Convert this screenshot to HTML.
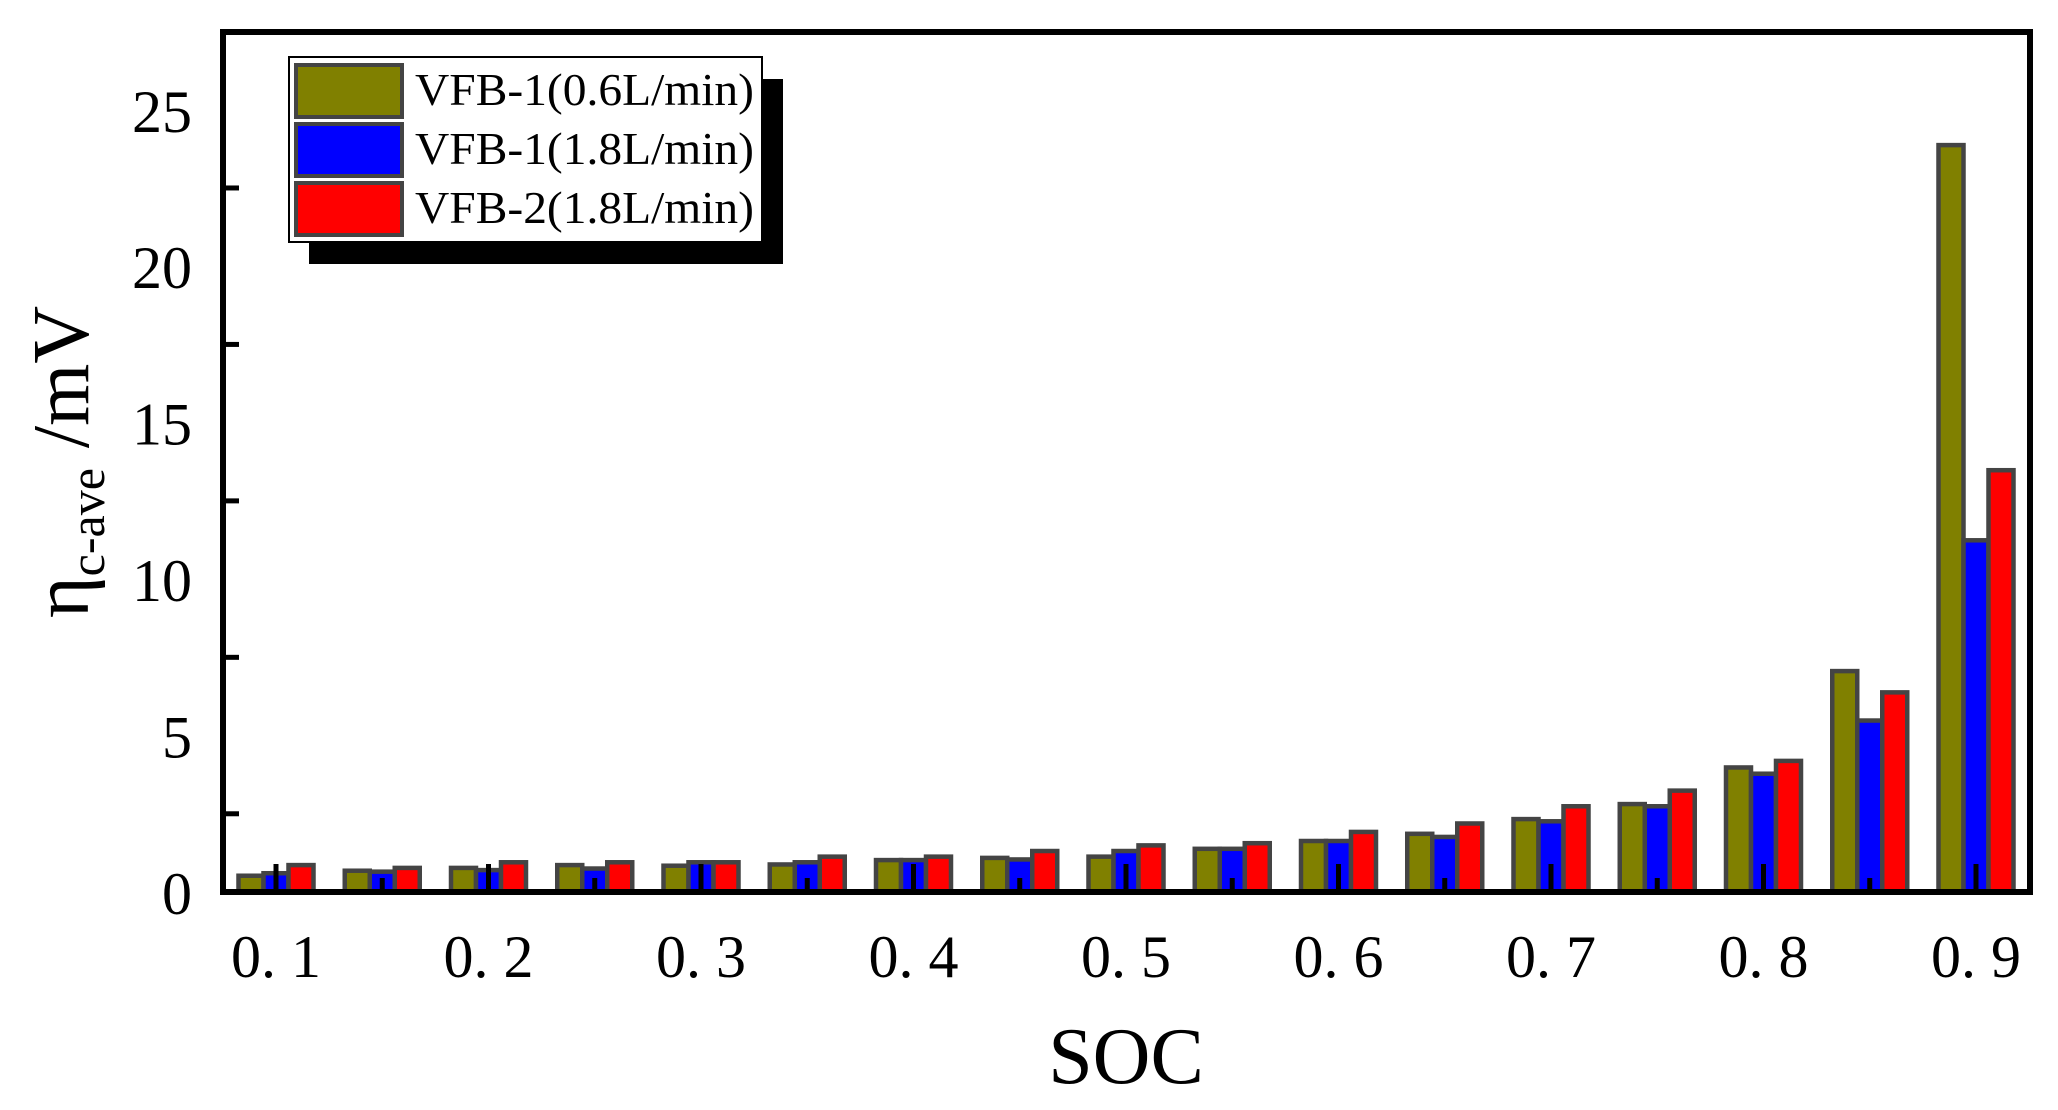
<!DOCTYPE html>
<html><head><meta charset="utf-8"><style>
html,body{margin:0;padding:0;background:#fff;}
svg{display:block;font-family:"Liberation Serif",serif;}
</style></head><body>
<svg id="chart" width="2058" height="1110" viewBox="0 0 2058 1110">
<g id="bars"></g>
<g id="ticks"></g>
<rect x="223" y="32" width="1807" height="860" fill="none" stroke="#000" stroke-width="6"/>
<g id="labels"></g>
<text x="1126" y="1083" font-size="80" text-anchor="middle">SOC</text>
<text transform="translate(88,462) rotate(-90)" font-size="80" text-anchor="middle">η<tspan font-size="50" dy="16">c-ave</tspan><tspan dy="-16"> /mV</tspan></text>
<g>
<rect x="309" y="79" width="474" height="185" fill="#000"/>
<rect x="289" y="57" width="473" height="185" fill="#fff" stroke="#000" stroke-width="2"/>
<g id="legend"></g>
</g>
</svg>
<script>
const categories = ["0.1","0.15","0.2","0.25","0.3","0.35","0.4","0.45","0.5","0.55","0.6","0.65","0.7","0.75","0.8","0.85","0.9"];
const vfb1Low = [0.52,0.68,0.77,0.86,0.84,0.88,1.02,1.09,1.13,1.38,1.63,1.86,2.33,2.81,3.98,7.06,23.87];
const vfb1High = [0.6,0.65,0.7,0.75,0.95,0.95,1.02,1.04,1.31,1.38,1.63,1.76,2.26,2.74,3.78,5.48,11.24];
const vfb2High = [0.86,0.77,0.95,0.95,0.95,1.13,1.13,1.31,1.49,1.56,1.92,2.19,2.74,3.24,4.19,6.38,13.48];
const seriesNames = ["VFB-1(0.6L/min)","VFB-1(1.8L/min)","VFB-2(1.8L/min)"];
const seriesColors = ["#808000","#0000ff","#ff0000"];
const yTickLabels = [0,5,10,15,20,25];
const xTickLabels = ["0. 1","0. 2","0. 3","0. 4","0. 5","0. 6","0. 7","0. 8","0. 9"];

const NS="http://www.w3.org/2000/svg";
const y0=892, unit=31.29;
function yScale(v){return y0-v*unit;}
function xScale(i){return 276+i*106.25;}
function mk(tag,attrs,parent){const e=document.createElementNS(NS,tag);for(const k in attrs)e.setAttribute(k,attrs[k]);parent.appendChild(e);return e;}
const bars=document.getElementById('bars'),ticks=document.getElementById('ticks'),labels=document.getElementById('labels'),legend=document.getElementById('legend');
const series=[vfb1Low,vfb1High,vfb2High];
const bw=25;
categories.forEach((c,i)=>{
  series.forEach((s,k)=>{
    const x=xScale(i)-1.5*bw+k*bw;
    const r=mk('rect',{x:x,y:yScale(s[i]),width:bw,height:y0-yScale(s[i]),fill:seriesColors[k],stroke:'#444',"stroke-width":4.5},bars);
    
    
  });
  const long=i%2===0;
  const t=mk('rect',{x:xScale(i)-2.5,y:y0-(long?28:14),width:5,height:long?28:14,fill:'#000'},ticks);
  
  
});
for(let v=2.5;v<27;v+=5){
  const t=mk('rect',{x:223,y:yScale(v)-2.5,width:16,height:5,fill:'#000'},ticks);
  
  
}
yTickLabels.forEach(v=>{
  const t=mk('text',{x:192,y:yScale(v)+22,"font-size":60,"text-anchor":"end"},labels);
  t.textContent=v;
  
  
});
xTickLabels.forEach((l,j)=>{
  const t=mk('text',{x:xScale(j*2),y:977,"font-size":60,"text-anchor":"middle"},labels);
  t.textContent=l;
  
  
});
seriesNames.forEach((n,k)=>{
  const ys=[65,124,183][k];
  const sw=mk('rect',{x:296,y:ys,width:106,height:52,fill:seriesColors[k],stroke:'#444',"stroke-width":4},legend);
  
  
  const t=mk('text',{x:415,y:ys+40,"font-size":46,textLength:339,lengthAdjust:"spacingAndGlyphs"},legend);
  t.textContent=n;
  
  
});
</script>
</body></html>
